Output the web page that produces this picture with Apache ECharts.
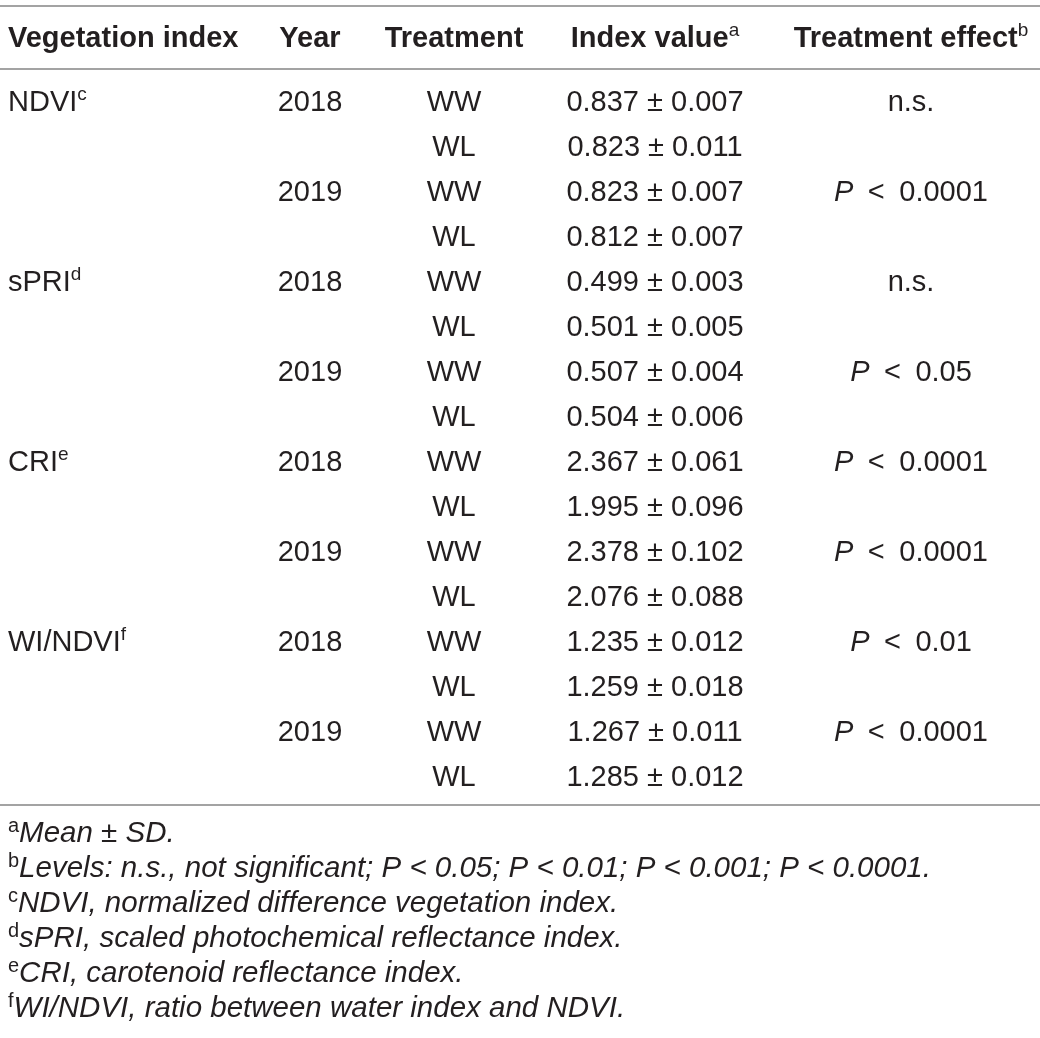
<!DOCTYPE html>
<html><head><meta charset="utf-8">
<script src="https://cdn.jsdelivr.net/npm/echarts@6/dist/echarts.min.js"></script>
<style>html,body{margin:0;padding:0;background:#fff}#c{width:1040px;height:1038px}</style>
</head><body><div id="c"></div>
<script>
// ---- data ----
const columns = ['Vegetation index', 'Year', 'Treatment', 'Index value', 'Treatment effect'];
const columnSups = ['', '', '', 'a', 'b'];
const indices = ['NDVI', 'sPRI', 'CRI', 'WI/NDVI'];
const indexSups = ['c', 'd', 'e', 'f'];
const years = ['2018', '2019'];
const treatments = ['WW', 'WL'];
const means = [0.837, 0.823, 0.823, 0.812, 0.499, 0.501, 0.507, 0.504, 2.367, 1.995, 2.378, 2.076, 1.235, 1.259, 1.267, 1.285];
const sds = [0.007, 0.011, 0.007, 0.007, 0.003, 0.005, 0.004, 0.006, 0.061, 0.096, 0.102, 0.088, 0.012, 0.018, 0.011, 0.012];
const effects = ['n.s.', 'P < 0.0001', 'n.s.', 'P < 0.05', 'P < 0.0001', 'P < 0.0001', 'P < 0.01', 'P < 0.0001'];
const footnoteSups = ['a', 'b', 'c', 'd', 'e', 'f'];
const footnotes = [
  'Mean ± SD.',
  'Levels: n.s., not significant; P < 0.05; P < 0.01; P < 0.001; P < 0.0001.',
  'NDVI, normalized difference vegetation index.',
  'sPRI, scaled photochemical reflectance index.',
  'CRI, carotenoid reflectance index.',
  'WI/NDVI, ratio between water index and NDVI.'
];

// ---- layout (row units on the y scale; column label alignment) ----
const PITCH = 45, ROW0 = 101, H = 1038;
const yMin = -ROW0 / PITCH, yMax = (H - ROW0) / PITCH;
const toRow = y => (y - ROW0) / PITCH;
const headerRow = toRow(37);
const ruleRows = [toRow(6), toRow(69), toRow(805)];
const footRows = [832, 867, 902, 937, 972, 1007].map(toRow);
const DY = 2;
const colLabel = [
  { align: 'left', dx: -96 },
  { align: 'center', dx: -2 },
  { align: 'center', dx: -66 },
  { align: 'center', dx: -73 },
  { align: 'center', dx: -25 }
];

const F = '"Liberation Sans", Arial, Helvetica, sans-serif';
const C = '#231f20';
const rich = {
  n: { fontSize: 29, fontFamily: F, color: C, lineHeight: 36 },
  b: { fontSize: 29, fontFamily: F, color: C, fontWeight: 'bold', lineHeight: 36 },
  i: { fontSize: 29, fontFamily: F, color: C, fontStyle: 'italic', lineHeight: 36 },
  s: { fontSize: 19, fontFamily: F, color: C, lineHeight: 22, verticalAlign: 'top' },
  fi: { fontSize: 29.5, fontFamily: F, color: C, fontStyle: 'italic', lineHeight: 36 },
  fs: { fontSize: 20, fontFamily: F, color: C, lineHeight: 22, verticalAlign: 'top' }
};

function cell(col, row, text) {
  return {
    value: [col, row],
    label: { formatter: text, align: colLabel[col].align, offset: [colLabel[col].dx, DY] }
  };
}
function effectText(e) {
  if (e.startsWith('P')) return '{i|P}{n|\u2002<\u2002' + e.split('<')[1].trim() + '}';
  return '{n|' + e + '}';
}

const cells = [];
columns.forEach((c, j) => {
  cells.push(cell(j, headerRow, '{b|' + c + '}' + (columnSups[j] ? '{s|' + columnSups[j] + '}' : '')));
});
means.forEach((m, k) => {
  const idx = Math.floor(k / 4), yi = Math.floor((k % 4) / 2), ti = k % 2;
  if (k % 4 === 0) cells.push(cell(0, k, '{n|' + indices[idx] + '}{s|' + indexSups[idx] + '}'));
  if (k % 2 === 0) cells.push(cell(1, k, '{n|' + years[yi] + '}'));
  cells.push(cell(2, k, '{n|' + treatments[ti] + '}'));
  cells.push(cell(3, k, '{n|' + m.toFixed(3) + ' \u00b1 ' + sds[k].toFixed(3) + '}'));
  if (k % 2 === 0) cells.push(cell(4, k, effectText(effects[k / 2])));
});
footnotes.forEach((t, f) => {
  cells.push(cell(0, footRows[f], '{fs|' + footnoteSups[f] + '}{fi|' + t + '}'));
});

const chart = echarts.init(document.getElementById('c'), null, { renderer: 'canvas' });
chart.setOption({
  animation: false,
  backgroundColor: '#ffffff',
  grid: { left: 0, right: 0, top: 0, bottom: 0 },
  xAxis: { type: 'category', data: columns, show: false, boundaryGap: true },
  yAxis: { type: 'value', inverse: true, min: yMin, max: yMax, show: false },
  series: [{
    type: 'scatter',
    symbolSize: 0,
    silent: true,
    clip: false,
    itemStyle: { opacity: 1 },
    data: cells,
    label: { show: true, position: 'inside', verticalAlign: 'middle', color: C, opacity: 1, textBorderWidth: 0, rich: rich },
    markLine: {
      silent: true,
      symbol: ['none', 'none'],
      label: { show: false },
      lineStyle: { color: '#a3a3a3', width: 2, type: 'solid', opacity: 1 },
      data: ruleRows.map(r => ({ yAxis: r }))
    }
  }]
});
</script>
</body></html>
